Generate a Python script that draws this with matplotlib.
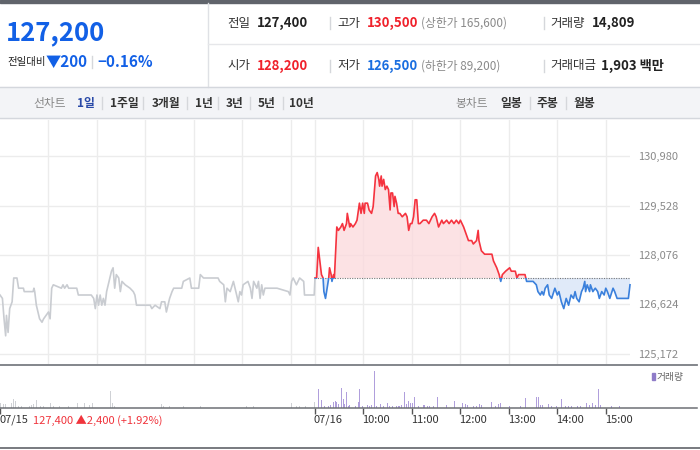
import numpy as np
import matplotlib.pyplot as plt
from matplotlib.patches import Rectangle
from matplotlib.lines import Line2D

plt.rcParams['font.family'] = ['Noto Sans CJK KR', 'DejaVu Sans']

# ---- data (minutes from 07/15 09:00, day 2 starts at 390) ----
ref_price = 127400
y_ticks = [125172, 126624, 128076, 129528, 130980]

day1_min = [0, 3, 5, 7, 8, 10, 12, 15, 17, 21, 23, 29, 30, 41, 42, 43, 45, 49, 52, 54,
            60, 62, 64, 66, 76, 78, 80, 83, 85, 95, 97, 109, 113, 116, 118, 120, 122, 124, 126, 128,
            130, 132, 136, 138, 140, 142, 144, 147, 149, 151, 155, 161, 165, 167, 169, 186, 188, 192, 198, 200,
            204, 206, 208, 210, 213, 215, 225, 227, 235, 237, 246, 248, 252, 270, 272, 277, 279, 281, 285, 289,
            293, 295, 297, 299, 301, 307, 310, 312, 314, 318, 320, 322, 324, 326, 328, 343, 357, 359, 361, 363,
            367, 371, 376, 377, 389, 390]
day1_price = [126900, 126800, 126200, 125700, 126300, 125800, 126500, 126700, 127400, 127400,
              127100, 127100, 127000, 127000, 127100, 127000, 126600, 126200, 126100, 126200,
              126400, 126200, 127100, 127200, 127100, 127200, 127100, 127200, 127100, 127100,
              126900, 126900, 126900, 126800, 126500, 126900, 126600, 126900, 126600, 126800,
              126600, 127000, 127400, 127600, 127700, 127100, 127500, 127400, 127000, 127300,
              127200, 127100, 127000, 126900, 126600, 126600, 126500, 126600, 126500, 126700,
              126700, 126400, 126600, 126800, 127000, 127100, 127100, 127300, 127400, 127100,
              127100, 127500, 127400, 127400, 127300, 127200, 126700, 127100, 127000, 127300,
              126900, 126700, 127000, 126900, 127200, 127300, 127100, 126800, 127300, 127100,
              127300, 126800, 127200, 126900, 127100, 127100, 127000, 126900, 127300, 127400,
              127200, 127400, 127300, 126900, 126900, 127400]

day2_min = [390, 392, 394, 396, 398, 400, 401, 403, 405, 407, 408, 410, 411, 413, 414, 417, 419, 422, 424, 426,
            429, 430, 433, 434, 437, 440, 442, 445, 447, 449, 451, 452, 455, 457, 460, 462, 465, 467, 469, 470,
            472, 473, 475, 477, 479, 481, 483, 484, 486, 488, 489, 491, 493, 495, 498, 502, 504, 506, 508, 510,
            512, 514, 516, 518, 520, 524, 528, 531, 535, 538, 540, 543, 547, 549, 553, 556, 559, 562, 565, 568,
            570, 572, 574, 577, 580, 584, 586, 590, 592, 593, 596, 600, 609, 611, 615, 618, 620, 622, 626, 631,
            633, 638, 640, 642, 650, 652, 656, 660, 664, 666, 669, 671, 673, 675, 678, 680, 683, 687, 690, 692,
            695, 698, 701, 704, 707, 710, 712, 714, 717, 720, 722, 724, 725, 727, 730, 731, 734, 737, 740, 742,
            745, 748, 750, 752, 755, 759, 761, 764, 778, 780]
day2_price = [127400, 127400, 128300, 127900, 127500, 127400, 127000, 126800, 127100, 127400,
              127700, 127500, 127300, 127500, 127400, 128900, 128800, 128900, 129000, 128800,
              129000, 129300, 128900, 129000, 128900, 129000, 129100, 129600, 129300, 129600,
              129300, 129600, 129600, 129400, 129300, 129500, 130400, 130500, 130300, 130100,
              130400, 130100, 130300, 130000, 130100, 130000, 129400, 129900, 129900, 129500,
              129800, 129600, 129300, 129300, 129200, 129300, 129200, 128800, 129000, 129000,
              129200, 129700, 129700, 129000, 129000, 129100, 129100, 129000, 129200, 129300,
              129200, 128900, 129100, 129000, 129100, 129000, 129100, 129000, 129100, 129000,
              129100, 129000, 128900, 128700, 128500, 128500, 128400, 128500, 128800, 128500,
              128200, 128100, 128100, 127900, 127700, 127500, 127300, 127500, 127600, 127700,
              127600, 127600, 127400, 127500, 127500, 127300, 127300, 127300, 127200, 127000,
              126900, 127000, 126900, 127100, 127200, 126900, 126800, 127100, 126900, 127000,
              126700, 126500, 126800, 126600, 126900, 126800, 127000, 126800, 126700, 127000,
              127100, 127300, 127000, 127200, 127000, 127200, 127000, 127100, 127000, 126800,
              127000, 126900, 127100, 127000, 126800, 127100, 127000, 126800, 126800, 127200]

vol1_min = [1, 4, 7, 10, 14, 17, 19, 21, 23, 27, 31, 37, 39, 41, 45, 47, 50, 54, 63, 66,
            74, 78, 85, 96, 99, 105, 109, 111, 115, 120, 137, 139, 142, 200, 202, 210, 227, 248, 305, 314,
            361, 367, 371, 378, 389]
vol1_val = [170, 130, 130, 110, 170, 330, 270, 150, 80, 70, 70, 80, 110, 130, 310, 80, 70, 70, 170, 70,
            70, 70, 70, 170, 70, 170, 90, 110, 170, 170, 670, 170, 70, 130, 70, 50, 50, 50, 50, 50,
            170, 70, 70, 70, 230]

vol2_min = [394, 398, 402, 407, 409, 413, 415, 417, 419, 421, 423, 425, 427, 429, 431, 433, 437, 440, 442, 444,
            445, 447, 449, 452, 455, 457, 460, 464, 466, 468, 471, 473, 475, 480, 482, 486, 489, 491, 493, 495,
            497, 499, 501, 503, 504, 506, 508, 511, 513, 515, 518, 520, 524, 526, 529, 532, 536, 537, 542, 546,
            553, 563, 573, 576, 579, 582, 586, 590, 594, 596, 603, 609, 613, 617, 620, 624, 631, 640, 644, 651,
            660, 664, 667, 669, 672, 679, 683, 689, 695, 700, 704, 708, 715, 719, 726, 730, 734, 737, 741, 743,
            749, 757, 764, 767, 780]
vol2_val = [730, 310, 70, 70, 110, 240, 270, 240, 150, 130, 770, 330, 130, 610, 80, 90, 130, 80, 200, 240,
            730, 170, 80, 80, 90, 80, 90, 1470, 80, 90, 130, 250, 80, 170, 80, 80, 70, 70, 80, 80,
            90, 80, 610, 150, 330, 270, 170, 170, 410, 90, 80, 110, 90, 110, 80, 80, 110, 80, 410, 80,
            110, 270, 170, 130, 110, 90, 80, 80, 130, 110, 70, 210, 70, 130, 170, 200, 70, 70, 70, 370,
            570, 410, 410, 90, 90, 130, 70, 70, 330, 70, 70, 70, 80, 80, 170, 90, 170, 110, 730, 90,
            70, 70, 110, 80, 130]

hour_lines = [60, 120, 180, 240, 300, 360, 390, 450, 510, 570, 630, 690, 750]
x_labels = ['07/15', '07/16', '10:00', '11:00', '12:00', '13:00', '14:00', '15:00']
x_label_min = [0, 390, 450, 510, 570, 630, 690, 750]

# ---- figure in pixel units ----
W, H = 700, 450
fig = plt.figure(figsize=(7, 4.5), dpi=100)


def fx(x):
    return x / W


def fy(y):
    return 1 - y / H


def txt(x, y, s, size=9, color='#333333', weight='normal', ha='left'):
    fig.text(fx(x), fy(y), s, fontsize=size, color=color, fontweight=weight, ha=ha, va='center')


def hline(y, x0, x1, color, lw=1.0):
    fig.add_artist(Line2D([fx(x0), fx(x1)], [fy(y), fy(y)], color=color, lw=lw))


def vline(x, y0, y1, color, lw=1.0):
    fig.add_artist(Line2D([fx(x), fx(x)], [fy(y0), fy(y1)], color=color, lw=lw))


# header
fig.add_artist(Rectangle((0, fy(3)), 1, 3 / H, transform=fig.transFigure, color='#60646b'))
vline(208, 3, 87, '#dfe1e5')
hline(44, 208, 700, '#e6e7ea')

txt(6, 33, '127,200', size=18.5, color='#1260e6', weight='bold')
txt(7, 62, '전일대비', size=7.5, color='#222222')
txt(46, 62, '▼200', size=11, color='#1260e6', weight='bold')
vline(92, 56, 68, '#d5d7db')
txt(97, 62, '−0.16%', size=11, color='#1260e6', weight='bold')

txt(227, 23, '전일', size=9)
txt(257, 23, '127,400', size=9.5, color='#222222', weight='bold')
vline(330, 17, 29, '#d5d7db')
txt(337, 23, '고가', size=9)
txt(367, 23, '130,500', size=9.5, color='#f0212b', weight='bold')
txt(421, 23, '(상한가 165,600)', size=8.5, color='#8a8a8a')
vline(544, 17, 29, '#d5d7db')
txt(550, 23, '거래량', size=9)
txt(592, 23, '14,809', size=9.5, color='#222222', weight='bold')

txt(227, 66, '시가', size=9)
txt(257, 66, '128,200', size=9.5, color='#f0212b', weight='bold')
vline(330, 60, 72, '#d5d7db')
txt(337, 66, '저가', size=9)
txt(367, 66, '126,500', size=9.5, color='#1a6ee0', weight='bold')
txt(421, 66, '(하한가 89,200)', size=8.5, color='#8a8a8a')
vline(544, 60, 72, '#d5d7db')
txt(550, 66, '거래대금', size=9)
txt(601, 66, '1,903 백만', size=9.5, color='#222222', weight='bold')

# tab bar
fig.add_artist(Rectangle((0, fy(118)), 1, 31 / H, transform=fig.transFigure, color='#f3f4f7'))
hline(87, 0, 700, '#d4d7dd')
hline(118, 0, 700, '#d4d7dd')
txt(33, 103, '선차트', size=8.5, color='#888888')
txt(77, 103, '1일', size=8.5, color='#2a4aa8', weight='bold')
for x, s in [(110, '1주일'), (152, '3개월'), (195, '1년'), (226, '3년'), (258, '5년'), (289, '10년')]:
    txt(x, 103, s, size=8.5, color='#333333', weight='bold')
for x in [102, 143, 187, 218, 250, 283, 530, 566]:
    vline(x, 97, 109, '#d5d7db')
txt(455, 103, '봉차트', size=8.5, color='#888888')
for x, s in [(500, '일봉'), (537, '주봉'), (573, '월봉')]:
    txt(x, 103, s, size=8.5, color='#333333', weight='bold')

# price chart
ax = fig.add_axes([0, fy(364), fx(630), (364 - 120) / H])
ax.set_xlim(0, 780)
ax.set_ylim(ref_price - (364 - 278) * 29.4, ref_price + (278 - 120) * 29.4)
for s in ax.spines.values():
    s.set_visible(False)
for v in y_ticks:
    ax.axhline(v, color='#ececec', lw=1, zorder=0.5)
for m in hour_lines:
    ax.axvline(m, color='#ececec', lw=1, zorder=0.5)

ax.plot(day1_min, day1_price, color='#c9ccd1', lw=1.2, zorder=2)

t2 = np.array(day2_min)
p2 = np.array(day2_price)
ax.fill_between(t2, p2, ref_price, where=p2 >= ref_price, interpolate=True,
                color='#fbd9dc', alpha=0.75, lw=0, zorder=1)
ax.fill_between(t2, p2, ref_price, where=p2 <= ref_price, interpolate=True,
                color='#d6e4f8', alpha=0.75, lw=0, zorder=1)
up = Rectangle((0, ref_price), 1000, 1e6, transform=ax.transData)
dn = Rectangle((0, 0), 1000, ref_price, transform=ax.transData)
l_up, = ax.plot(t2, p2, color='#f5333f', lw=1.2, zorder=3)
l_up.set_clip_path(up)
l_dn, = ax.plot(t2, p2, color='#3a80dc', lw=1.2, zorder=3)
l_dn.set_clip_path(dn)
ax.plot([390, 780], [ref_price, ref_price], color='#777777', lw=0.8, ls=(0, (1, 1.2)), zorder=2.5)

ax.yaxis.tick_right()
ax.set_yticks(y_ticks)
ax.set_yticklabels([f'{v:,}' for v in y_ticks])
ax.tick_params(axis='y', length=0, pad=6, labelsize=8, labelcolor='#8a8a8a')
ax.set_xticks([])

# volume
vax = fig.add_axes([0, fy(407.7), fx(630), (407.7 - 365) / H])
vax.set_xlim(0, 780)
vax.set_ylim(0, 1700)
vax.bar(vol1_min, vol1_val, width=1.0, color='#cfd1d5', lw=0)
vax.bar(vol2_min, vol2_val, width=1.0, color='#b09fdc', lw=0)
for s in vax.spines.values():
    s.set_visible(False)
vax.set_yticks([])
vax.set_xticks(x_label_min)
vax.tick_params(axis='x', direction='out', length=4, width=1, color='#555555', labelbottom=False)

hline(364.5, 0, 697, '#7a7d82', lw=1.3)
hline(407.7, 0, 697, '#6d7075', lw=1.1)
hline(448, 0, 700, '#6d7075', lw=1.3)

fig.add_artist(Rectangle((fx(652), fy(380)), fx(3), 7 / H, transform=fig.transFigure, color='#8f7cc8'))
txt(657, 377, '거래량', size=7, color='#666666')

for m, s in zip(x_label_min, x_labels):
    txt(m * 630 / 780 - 1, 420, s, size=8, color='#333333')
txt(33, 420, '127,400 ▲2,400 (+1.92%)', size=8, color='#f0343c')

fig.savefig('out.png', dpi=100)
